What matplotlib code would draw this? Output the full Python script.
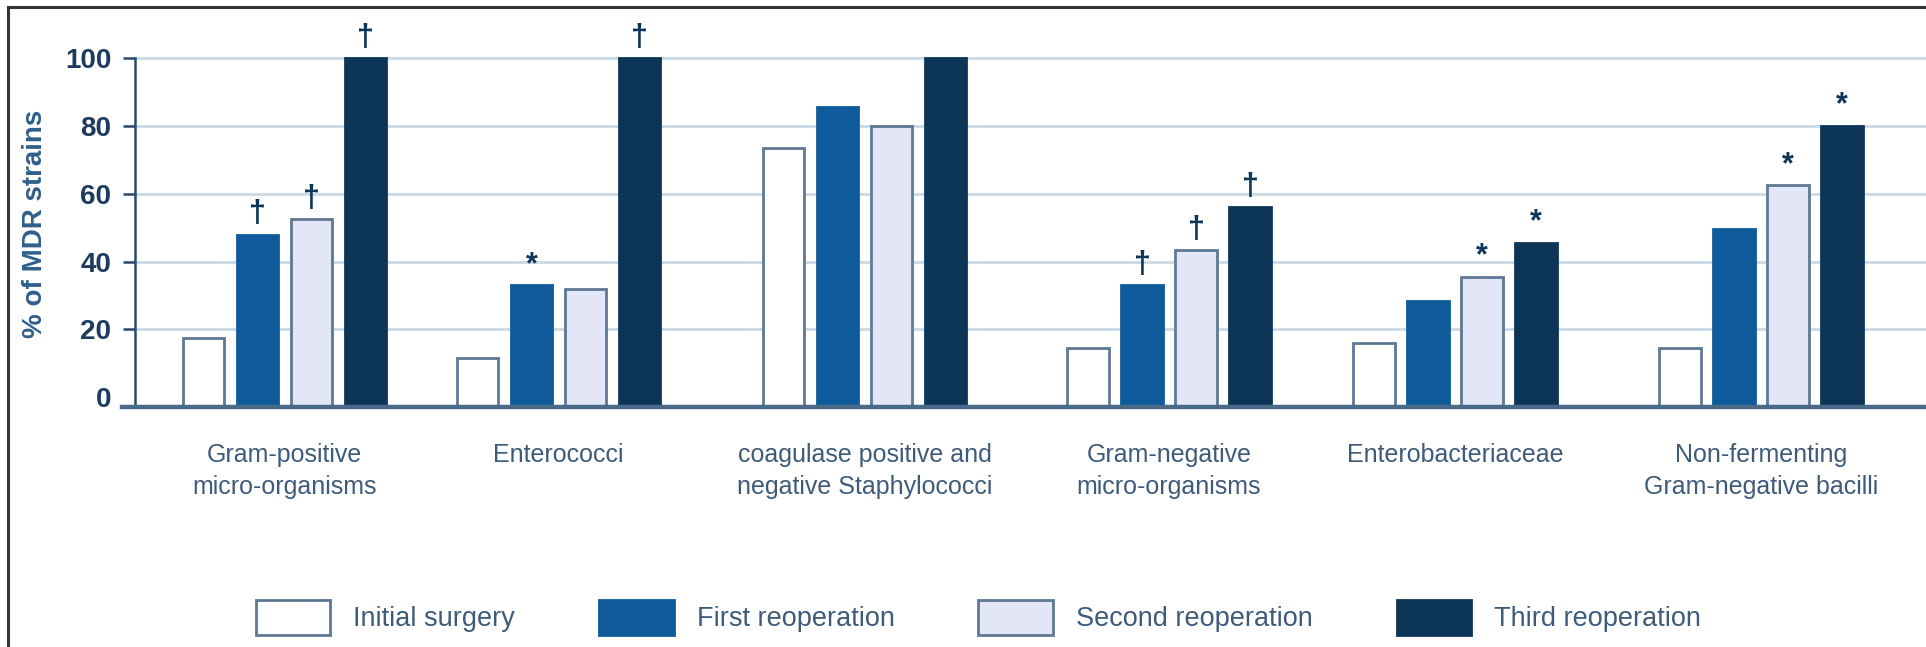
import numpy as np
import matplotlib
matplotlib.use("Agg")
import matplotlib.pyplot as plt
from matplotlib.patches import Patch
from matplotlib.lines import Line2D

plt.rcParams['font.family'] = ['Liberation Sans', 'DejaVu Sans']

# data
categories = ["Gram-positive\nmicro-organisms", "Enterococci",
              "coagulase positive and\nnegative Staphylococci",
              "Gram-negative\nmicro-organisms", "Enterobacteriaceae",
              "Non-fermenting\nGram-negative bacilli"]
series = ["Initial surgery", "First reoperation", "Second reoperation", "Third reoperation"]
initial = [17.5, 11.5, 73.5, 14.5, 16.0, 14.5]
first = [48.0, 33.0, 85.7, 33.0, 28.5, 49.5]
second = [52.5, 32.0, 80.0, 43.5, 35.5, 62.5]
third = [100.0, 100.0, 100.0, 56.0, 45.5, 80.0]
# significance marks per series ('' = none)
marks_first = ['\u2020', '*', '', '\u2020', '', '']
marks_second = ['\u2020', '', '', '\u2020', '*', '*']
marks_third = ['\u2020', '\u2020', '', '\u2020', '*', '*']
yticks = [0, 20, 40, 60, 80, 100]

# layout / style
group_x = [2.77, 7.84, 13.51, 19.15, 24.45, 30.11]
offsets = [-1.5, -0.5, 0.5, 1.5]
width = 0.77
base = -2.8
fills = ['#ffffff', '#0f5a9a', '#e2e6f6', '#0d3558']
edges = ['#5f7893', '#0f5a9a', '#5f7893', '#0d3558']
text_col = '#3e5b7a'
mark_col = '#0d3558'

fig = plt.figure(figsize=(19.26, 6.47), dpi=100)
ax = fig.add_axes([0.0701, 0.3714, 0.9299, 0.5646])

values = [initial, first, second, third]
marks = [None, marks_first, marks_second, marks_third]
for i in range(4):
    xs = np.array(group_x) + offsets[i]
    vals = np.array(values[i])
    ax.bar(xs, vals - base, bottom=base, width=width, color=fills[i],
           edgecolor=edges[i], linewidth=2, zorder=3)
    if marks[i] is None:
        continue
    for x, v, m in zip(xs, vals, marks[i]):
        if m == '':
            continue
        if m == '*':
            ax.text(x, v + 1.6, m, ha='center', va='bottom', fontsize=22,
                    fontweight='bold', color=mark_col, clip_on=False)
        else:
            ax.text(x, v + 1.5, m, ha='center', va='bottom', fontsize=22,
                    fontweight='bold', color=mark_col, clip_on=False)

# gridlines
for t in yticks[1:]:
    ax.axhline(t, color='#c9d9e6', linewidth=2, zorder=1)

ax.set_xlim(0, 33.17)
ax.set_ylim(base, 105)
ax.set_yticks(yticks)
ax.set_yticklabels([str(t) for t in yticks], fontsize=20, fontweight='bold', color='#1e3a5c')
ax.tick_params(axis='y', length=9, width=1.8, color='#2a4a6a', pad=8)
ax.yaxis.get_major_ticks()[0].tick1line.set_visible(False)
ax.set_xticks(group_x)
ax.set_xticklabels(categories, fontsize=18, color=text_col, linespacing=1.45, va='top')
ax.tick_params(axis='x', length=0, pad=26)

ax.set_ylabel('% of MDR strains', fontsize=20, fontweight='bold', color='#2f5f8c', labelpad=12)

for s in ['top', 'right', 'bottom']:
    ax.spines[s].set_visible(False)
ax.spines['left'].set_color('#2a4a6a')
ax.spines['left'].set_linewidth(1.8)
ax.spines['left'].set_bounds(base, 100)
ax.axhline(base, xmin=-0.0073, xmax=1, color='#4a6a8a', linewidth=3.2, clip_on=False, zorder=4)

handles = [Patch(facecolor=fills[i], edgecolor=edges[i], linewidth=2, label=series[i]) for i in range(4)]
fig.legend(handles=handles, loc='center', bbox_to_anchor=(0.508, 0.046), ncol=4,
           frameon=False, fontsize=19.5, labelcolor=text_col, handlelength=2.75,
           handleheight=1.6, handletextpad=0.85, columnspacing=3.1)

# outer frame (left and top edges)
fig.add_artist(Line2D([0.0042, 0.0042], [0, 0.989], color='#333333', linewidth=2.2))
fig.add_artist(Line2D([0.0042, 1], [0.989, 0.989], color='#333333', linewidth=2.2))

fig.savefig('out.png', dpi=100)
